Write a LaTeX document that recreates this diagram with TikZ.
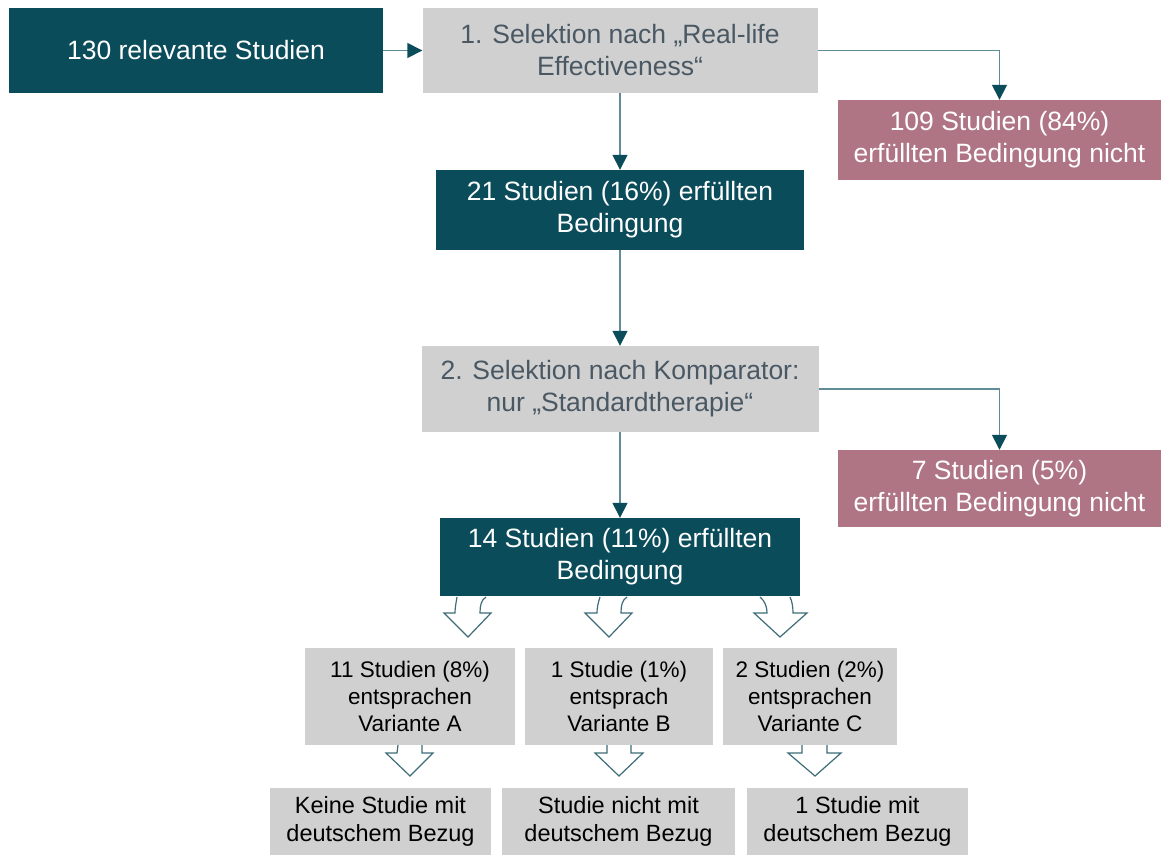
\documentclass[tikz,border=0pt]{standalone}
\usepackage{fontspec}
\setmainfont{Liberation Sans}
\usetikzlibrary{arrows.meta, positioning}
\definecolor{tealdark}{RGB}{11,76,90}
\definecolor{linkteal}{RGB}{96,140,152}
\definecolor{boxgray}{RGB}{208,208,208}
\definecolor{textslate}{RGB}{74,88,100}
\definecolor{exclrose}{RGB}{175,117,133}
\definecolor{outlineteal}{RGB}{62,108,120}

\begin{document}
\begin{tikzpicture}[x=1pt, y=-1pt,
  base/.style={inner sep=0pt, align=center, font=\fontsize{26.5}{32}\selectfont},
  dark/.style={base, fill=tealdark, text=white},
  sel/.style={base, fill=boxgray, text=textslate},
  excl/.style={base, fill=exclrose, text=white},
  small/.style={inner sep=0pt, align=center, fill=boxgray, text=black, font=\fontsize{22.5}{27}\selectfont},
  refbox/.style={small, font=\fontsize{23.5}{28}\selectfont},
  conn/.style={-{Triangle[width=15pt,length=15pt,color=tealdark]}, line width=1.5pt, draw=linkteal},
  hollow/.style={draw=outlineteal, line width=1.2pt, fill=white, line join=miter}
]
\useasboundingbox (0,0) rectangle (1161,855);

% main column
\node[dark, minimum width=374pt, minimum height=85pt] (start) at (196,50.5) {130 relevante Studien};
\node[sel, minimum width=395pt, minimum height=85pt] (sel1) at (620,50.5) {1. Selektion nach „Real-life\\Effectiveness“};
\node[excl, minimum width=323pt, minimum height=80pt] (excl1) at (999.5,140) {109 Studien (84\%)\\erfüllten Bedingung nicht};
\node[dark, minimum width=368pt, minimum height=80pt] (inc1) at (620,210) {21 Studien (16\%) erfüllten\\Bedingung};
\node[sel, minimum width=397pt, minimum height=86pt] (sel2) at (620,389) {2. Selektion nach Komparator:\\nur „Standardtherapie“};
\node[excl, minimum width=323pt, minimum height=77pt] (excl2) at (999.5,488.5) {7 Studien (5\%)\\erfüllten Bedingung nicht};
\node[dark, minimum width=360pt, minimum height=78pt] (inc2) at (620,557) {14 Studien (11\%) erfüllten\\Bedingung};

% variants
\node[small, minimum width=210pt, minimum height=97pt] (varA) at (410,696) {11 Studien (8\%)\\entsprachen\\Variante A};
\node[small, minimum width=188pt, minimum height=97pt] (varB) at (619,696) {1 Studie (1\%)\\entsprach\\Variante B};
\node[small, minimum width=174pt, minimum height=97pt] (varC) at (810,696) {2 Studien (2\%)\\entsprachen\\Variante C};

\node[refbox, minimum width=221pt, minimum height=67pt] (refA) at (380.5,821) {Keine Studie mit\\deutschem Bezug};
\node[refbox, minimum width=233pt, minimum height=67pt] (refB) at (618.5,821) {Studie nicht mit\\deutschem Bezug};
\node[refbox, minimum width=221pt, minimum height=67pt] (refC) at (857.5,821) {1 Studie mit\\deutschem Bezug};

% connectors
\draw[conn] (start) -- (sel1);
\draw[conn] (sel1) -| (excl1);
\draw[conn] (sel1) -- (inc1);
\draw[conn] (inc1) -- (sel2);
\draw[conn] (sel2) -| (excl2);
\draw[conn] (sel2) -- (inc2);

% hollow arrows below 14 Studien
\draw[hollow] (457,597) .. controls (456,603) and (455,608) .. (455,613) -- (444,613) -- (468,637) -- (491,613) -- (480,613) .. controls (480,606) and (481,600) .. (486,597);
\draw[hollow] (600,597) .. controls (598,603) and (597,608) .. (597,613) -- (585,613) -- (609,637) -- (632,613) -- (621,613) .. controls (621,606) and (622,600) .. (627,597);
\draw[hollow] (760,597) .. controls (765,601) and (767,607) .. (767,613) -- (754,613) -- (780,637) -- (807,613) -- (793,613) .. controls (793,607) and (792,601) .. (790,597);

% hollow arrows below variants
\draw[hollow] (398,745) -- (397,753) -- (386,753) -- (410,776) -- (433,753) -- (422,753) -- (422,745);
\draw[hollow] (607,745) -- (607,753) -- (595,753) -- (619,776) -- (643,753) -- (631,753) -- (631,745);
\draw[hollow] (802,745) -- (802,753) -- (788,753) -- (815,776) -- (841,753) -- (827,753) -- (827,745);
\end{tikzpicture}
\end{document}
